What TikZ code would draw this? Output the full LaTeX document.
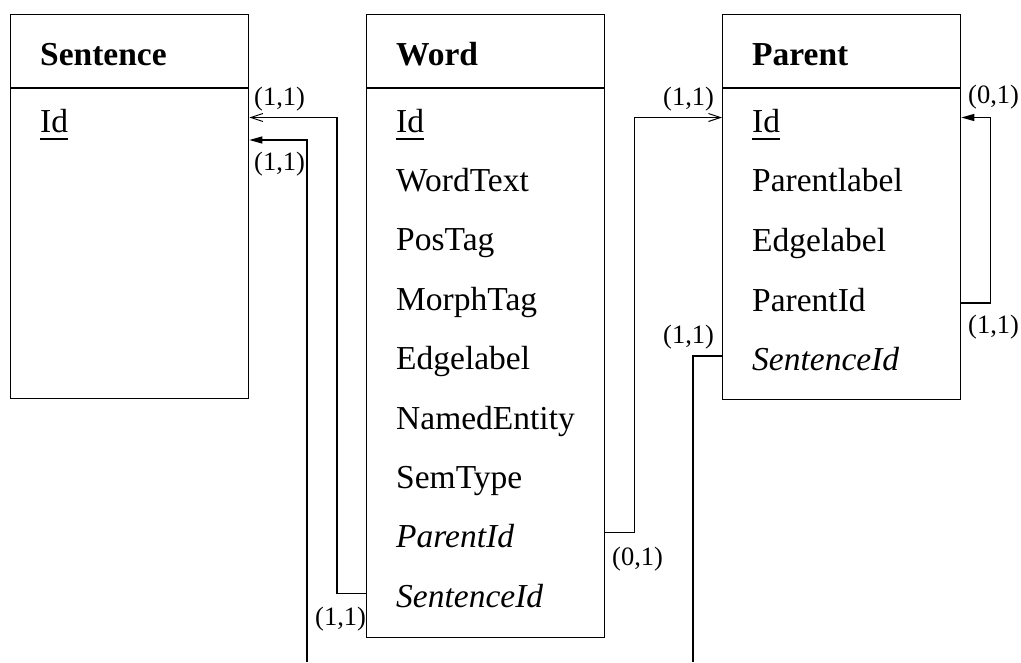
\documentclass[tikz,border=0pt]{standalone}
\usepackage{fontspec}
\setmainfont{Liberation Serif}
\usetikzlibrary{positioning, calc, arrows.meta}

\tikzset{
  entity/.style={draw, line width=1.3pt, minimum width=238pt, anchor=north west, inner sep=0pt},
  attr/.style={anchor=base west, inner sep=0pt, font=\fontsize{33.5}{40}\selectfont},
  card/.style={anchor=base west, inner sep=0pt, font=\fontsize{26.5}{30}\selectfont},
  link/.style={line width=1.3pt},
  open/.style={-{Straight Barb[length=12pt, width=8pt, line width=1pt]}},
  solid tip/.style={-{Triangle[length=13pt, width=7pt]}},
}

\begin{document}
\begin{tikzpicture}[x=1pt, y=-1pt]
  \useasboundingbox (0,0) rectangle (1021,662);

  % entities
  \node [entity, minimum height=384] (sentence) at (10,14) {};
  \node [entity, minimum height=623] (word) at (366,14) {};
  \node [entity, minimum height=385] (parent) at (722,14) {};
  \foreach \e in {sentence, word, parent}
    \draw [link] (\e.west |- 0,88) -- (\e.east |- 0,88);

  % headers
  \node [attr, font=\fontsize{33.5}{40}\selectfont\bfseries] (s-head) at (40,65) {Sentence};
  \node [attr, font=\fontsize{33.5}{40}\selectfont\bfseries] (w-head) at (396,65) {Word};
  \node [attr, font=\fontsize{33.5}{40}\selectfont\bfseries] (p-head) at (752,65) {Parent};

  % attributes
  \node [attr] (s-id) at (40,132) {Id};
  \foreach \n/\t/\y in {w-id/Id/132, w-text/WordText/191.4, w-pos/PosTag/250.8,
      w-morph/MorphTag/310.2, w-edge/Edgelabel/369.6, w-ne/NamedEntity/429,
      w-sem/SemType/488.4, w-pid/\textit{ParentId}/547.8, w-sid/\textit{SentenceId}/607.2}
    \node [attr] (\n) at (396,\y) {\t};
  \foreach \n/\t/\y in {p-id/Id/132, p-label/Parentlabel/191, p-edge/Edgelabel/251,
      p-pid/ParentId/311, p-sid/\textit{SentenceId}/370}
    \node [attr] (\n) at (752,\y) {\t};
  \foreach \n in {s-id, w-id, p-id}
    \draw [line width=1.2pt] ([yshift=-7pt]\n.base west) -- ([yshift=-7pt]\n.base east);

  % relations
  \coordinate (s-out) at (307,662);
  \coordinate (p-out) at (693,662);
  \draw [link, open] ([yshift=14pt]w-sid.base -| word.west) -- ++(-29,0)
    |- ([yshift=14.5pt]s-id.base -| sentence.east);
  \draw [link, solid tip] (s-out) |- ([yshift=-8pt]s-id.base -| sentence.east);
  \draw [link, open] ([yshift=15pt]w-pid.base -| word.east) -- ++(29,0)
    |- ([yshift=14.5pt]p-id.base -| parent.west);
  \draw [link, solid tip] ([yshift=8pt]p-pid.base -| parent.east) -- ++(29,0)
    |- ([yshift=14.5pt]p-id.base -| parent.east);
  \draw [link] ([yshift=14pt]p-sid.base -| parent.west) -| (p-out);

  % cardinalities
  \node [card] (c-s1) at (254,105) {(1,1)};
  \node [card] (c-s2) at (254,170) {(1,1)};
  \node [card] (c-ws) at (315,625) {(1,1)};
  \node [card] (c-wp) at (612,565) {(0,1)};
  \node [card] (c-pi) at (663,105) {(1,1)};
  \node [card] (c-ps) at (663,343) {(1,1)};
  \node [card] (c-p0) at (968,103) {(0,1)};
  \node [card] (c-p1) at (968,333) {(1,1)};
\end{tikzpicture}
\end{document}
